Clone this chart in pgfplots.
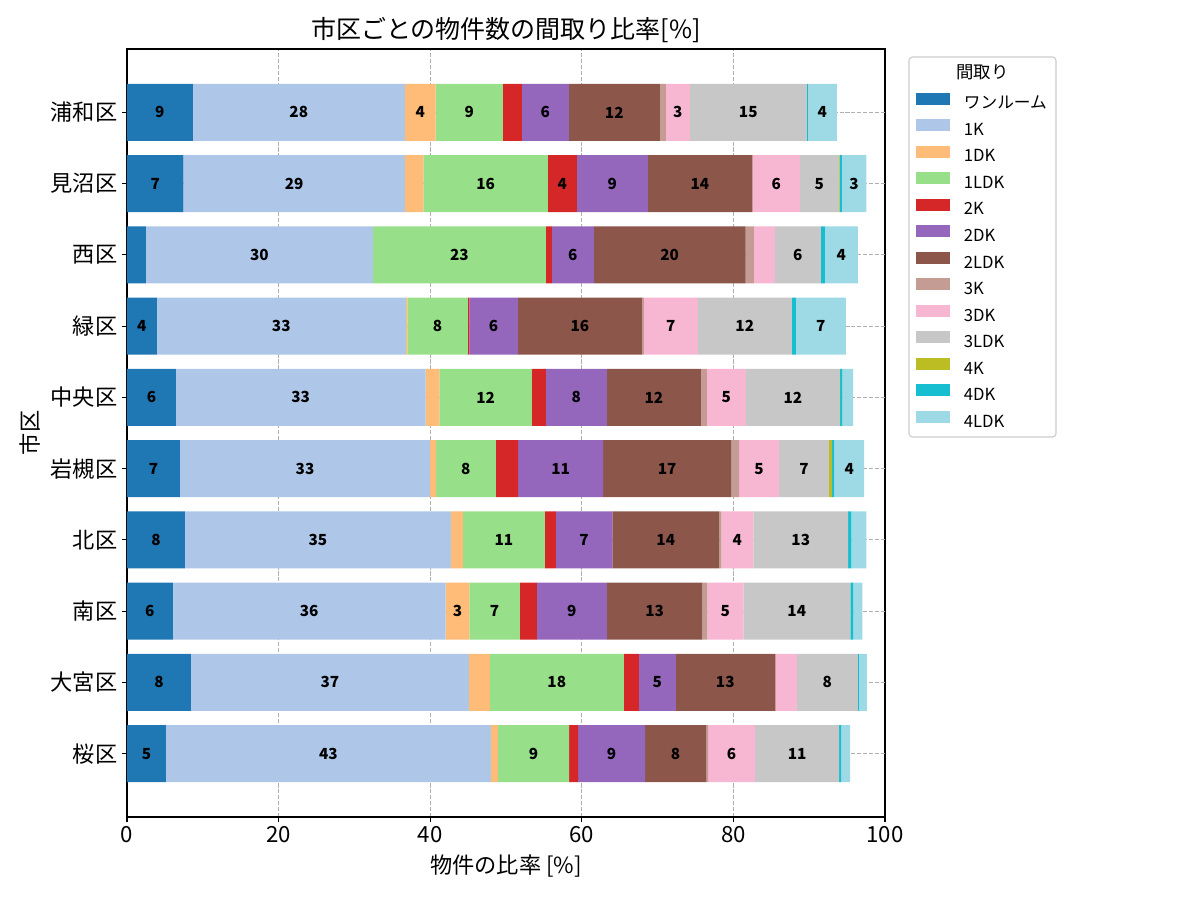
\documentclass[border=0pt]{standalone}
\usepackage{fontspec}
\setmainfont{Noto Sans CJK JP}
\usepackage{pgfplots}
\usepackage{pgfplotstable}
\pgfplotsset{compat=1.18}

% tab20-style palette, one colour per floor plan
\definecolor{cR}{HTML}{1F77B4}
\definecolor{cKa}{HTML}{AEC7E8}
\definecolor{cDKa}{HTML}{FFBB78}
\definecolor{cLDKa}{HTML}{98DF8A}
\definecolor{cKb}{HTML}{D62728}
\definecolor{cDKb}{HTML}{9467BD}
\definecolor{cLDKb}{HTML}{8C564B}
\definecolor{cKc}{HTML}{C49C94}
\definecolor{cDKc}{HTML}{F7B6D2}
\definecolor{cLDKc}{HTML}{C7C7C7}
\definecolor{cKd}{HTML}{BCBD22}
\definecolor{cDKd}{HTML}{17BECF}
\definecolor{cLDKd}{HTML}{9EDAE5}
\definecolor{gridgray}{HTML}{B0B0B0}

% share of listings [%] per ward (idx 0 = bottom row) and floor plan
\pgfplotstableread{
idx R     K1    DK1  LDK1  K2   DK2   LDK2  K3   DK3  LDK3  K4   DK4  LDK4
0   5.12  42.88 0.92 9.40  1.18 8.84  8.05  0.26 6.21 11.08 0    0.26 1.19
1   8.42  36.67 2.77 17.68 1.98 4.88  13.06 0.14 2.76 8.05  0    0.13 1.06
2   6.04  35.98 3.16 6.64  2.24 9.24  12.60 0.66 4.74 14.12 0    0.40 1.18
3   7.63  35.09 1.58 10.83 1.44 7.45  14.12 0.26 4.22 12.53 0    0.40 1.98
4   6.97  33.03 0.74 7.91  2.95 11.21 16.89 1.05 5.28 6.58  0.40 0.28 3.96
5   6.44  32.94 1.84 12.18 1.85 8.05  12.40 0.79 5.15 12.40 0.05 0.30 1.40
6   3.93  32.85 0.22 7.96  0.22 6.38  16.36 0.26 7.12 12.40 0    0.53 6.60
7   2.48  29.95 0    22.82 0.79 5.54  20.02 1.10 2.76 6.07  0    0.53 4.35
8   7.45  29.20 2.45 16.41 3.83 9.37  13.72 0.13 6.20 5.14  0.10 0.30 3.25
9   8.68  27.97 4.05 8.88  2.50 6.20  12.01 0.79 3.17 15.43 0    0.13 3.84
}\shares

\pgfplotsset{
  madori/.style 2 args={fill=#2, draw=none,
    visualization depends on={\thisrow{#1} \as \segw}},
}

\begin{document}
\begin{tikzpicture}
\path[use as bounding box] (0,0) rectangle (864pt,648pt);
% legend frame and title
\draw[rounded corners=2.5pt, draw=black!20, line width=0.8pt, fill=white]
  (654.48pt,333.36pt) rectangle (760.32pt,606.96pt);
\node[font=\fontsize{12.5}{14}\selectfont] at (707.4pt,596.2pt) {間取り};
\begin{axis}[
  at={(91.44pt,59.76pt)}, anchor=south west,
  scale only axis, width=545.76pt, height=552.96pt,
  xbar stacked, bar width=0.8,
  xmin=0, xmax=100, ymin=-0.89, ymax=9.89,
  xtick={0,20,...,100},
  ytick={0,...,9},
  yticklabels={桜区,大宮区,南区,北区,岩槻区,中央区,緑区,西区,見沼区,浦和区},
  /pgf/number format/assume math mode=true,
  tick label style={font=\fontsize{16}{18}\selectfont},
  tick align=outside, tick pos=left,
  major tick length=3.5pt,
  every tick/.style={black, line width=0.8pt},
  axis line style={line width=0.8pt},
  xmajorgrids, ymajorgrids=false,
  major grid style={gridgray, line width=0.8pt, dash pattern=on 2.96pt off 1.28pt},
  title={市区ごとの物件数の間取り比率[\%]},
  every axis title shift=0pt,
  title style={at={(axis description cs:0.5,1.0247)}, anchor=center,
    font=\fontsize{18}{22}\selectfont},
  xlabel={物件の比率 [\%]},
  ylabel={市区},
  every axis x label/.style={at={(axis description cs:0.5,-0.0638)}, anchor=center,
    font=\fontsize{16}{18}\selectfont},
  every axis y label/.style={at={(axis description cs:-0.128,0.5)}, anchor=center,
    rotate=90, font=\fontsize{16}{18}\selectfont},
  % segment labels, centred in each segment, only for shares of 3 % or more
  nodes near coords={\pgfmathparse{\segw<2.99 ? 0 : 1}%
    \ifnum\pgfmathresult=1 \pgfmathprintnumber[fixed,precision=0]{\segw}\fi},
  every node near coord/.append style={anchor=center, text=black,
    font=\bfseries\fontsize{11}{13}\selectfont},
  legend image code/.code={\path[#1,draw=none] (0pt,0.1pt) rectangle (24.5pt,8.7pt);},
  legend cell align=left,
  legend style={draw=none, fill=none, at={(axis description cs:1.0409,0.9432)},
    anchor=north west, inner sep=0pt, outer sep=0pt,
    row sep=4.4pt, column sep=10pt,
    nodes={inner sep=0pt, text height=9pt, text depth=3pt},
    font=\fontsize{12}{14}\selectfont},
]
\addplot[madori={R}{cR}]       table[x=R,y=idx]{\shares};
\addplot[madori={K1}{cKa}]     table[x=K1,y=idx]{\shares};
\addplot[madori={DK1}{cDKa}]   table[x=DK1,y=idx]{\shares};
\addplot[madori={LDK1}{cLDKa}] table[x=LDK1,y=idx]{\shares};
\addplot[madori={K2}{cKb}]     table[x=K2,y=idx]{\shares};
\addplot[madori={DK2}{cDKb}]   table[x=DK2,y=idx]{\shares};
\addplot[madori={LDK2}{cLDKb}] table[x=LDK2,y=idx]{\shares};
\addplot[madori={K3}{cKc}]     table[x=K3,y=idx]{\shares};
\addplot[madori={DK3}{cDKc}]   table[x=DK3,y=idx]{\shares};
\addplot[madori={LDK3}{cLDKc}] table[x=LDK3,y=idx]{\shares};
\addplot[madori={K4}{cKd}]     table[x=K4,y=idx]{\shares};
\addplot[madori={DK4}{cDKd}]   table[x=DK4,y=idx]{\shares};
\addplot[madori={LDK4}{cLDKd}] table[x=LDK4,y=idx]{\shares};
\legend{ワンルーム,1K,1DK,1LDK,2K,2DK,2LDK,3K,3DK,3LDK,4K,4DK,4LDK}
% horizontal guides through each ward's bar, drawn over the bars
\pgfplotsinvokeforeach{0,1,2,3,4,5,6,7,8,9}{
  \draw[gridgray, line width=0.8pt, dash pattern=on 2.96pt off 1.28pt]
    (axis cs:0,#1) -- (axis cs:100,#1);
}
\end{axis}
\end{tikzpicture}
\end{document}
